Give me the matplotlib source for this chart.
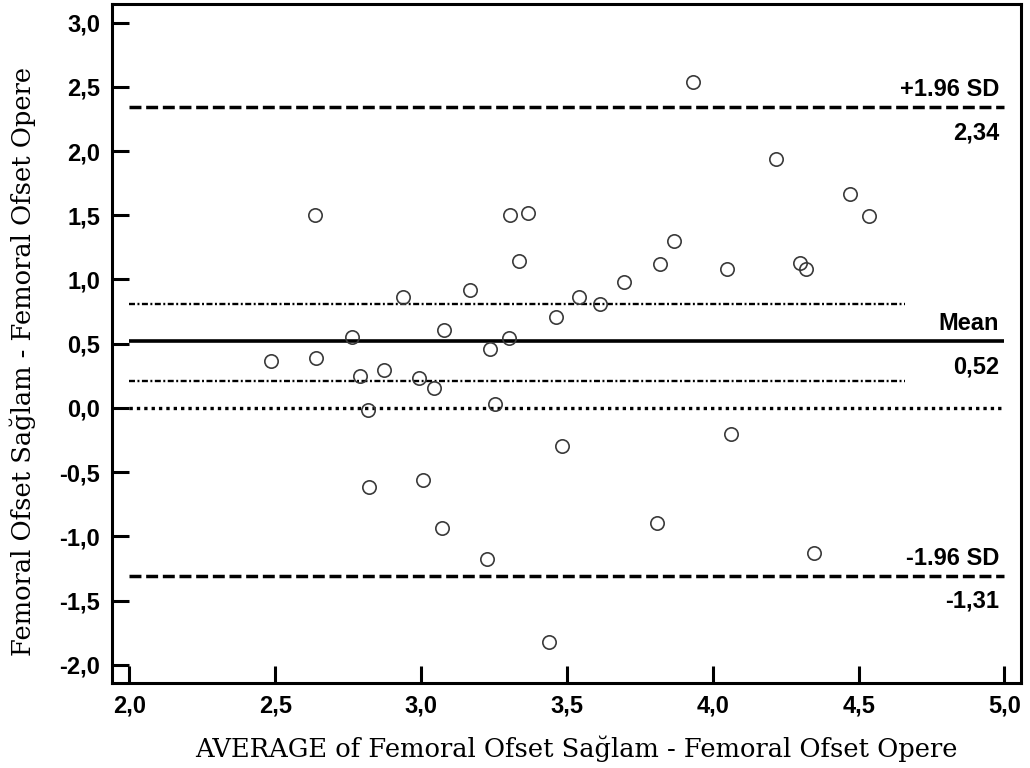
import matplotlib
matplotlib.use("Agg")
import matplotlib.pyplot as plt
from matplotlib import font_manager as fm
from matplotlib.ticker import FixedLocator, FuncFormatter

# ---- data ----
avg = [2.486, 2.637, 2.640, 2.764, 2.792, 2.819, 2.820, 2.874, 2.939, 2.994,
       3.008, 3.045, 3.072, 3.079, 3.168, 3.227, 3.237, 3.254, 3.302, 3.306,
       3.337, 3.366, 3.438, 3.461, 3.484, 3.540, 3.615, 3.695, 3.810, 3.819,
       3.868, 3.932, 4.048, 4.061, 4.217, 4.299, 4.319, 4.346, 4.470, 4.534]
diff = [0.364, 1.500, 0.389, 0.552, 0.248, -0.018, -0.618, 0.294, 0.863, 0.233,
        -0.564, 0.154, -0.938, 0.606, 0.918, -1.179, 0.456, 0.028, 0.544, 1.500,
        1.142, 1.516, -1.826, 0.711, -0.294, 0.862, 0.812, 0.978, -0.899, 1.121,
        1.300, 2.536, 1.082, -0.201, 1.936, 1.126, 1.082, -1.128, 1.664, 1.497]

mean_diff = 0.52
upper_loa = 2.34
lower_loa = -1.31
mean_ci = [0.21, 0.81]
line_labels = ["+1.96 SD", "Mean", "-1.96 SD"]
value_labels = ["2,34", "0,52", "-1,31"]
x_ticks = [2.0, 2.5, 3.0, 3.5, 4.0, 4.5, 5.0]
y_ticks = [-2.0, -1.5, -1.0, -0.5, 0.0, 0.5, 1.0, 1.5, 2.0, 2.5, 3.0]
xlabel = "AVERAGE of Femoral Ofset Sağlam - Femoral Ofset Opere"
ylabel = "Femoral Ofset Sağlam - Femoral Ofset Opere"

# find a regular-width Liberation Sans Bold (not Narrow)
bold_file = None
for f in fm.fontManager.ttflist:
    if f.name == 'Liberation Sans' and f.weight in ('bold', 700) and 'Narrow' not in f.fname \
            and 'Italic' not in f.fname and f.style == 'normal':
        bold_file = f.fname
        break
if bold_file:
    bold_fp = fm.FontProperties(fname=bold_file, size=17)
else:
    bold_fp = fm.FontProperties(family='DejaVu Sans', weight='bold', size=15.5)

plt.rcParams['lines.scale_dashes'] = False
W, H = 1030, 768
fig = plt.figure(figsize=(W / 100, H / 100), dpi=100)
ax = fig.add_axes([112 / W, 1 - 683 / H, 909 / W, 679 / H])

xline = (2.0, 5.0)
ci_end = 4.66

ax.plot(xline, [upper_loa] * 2, color='black', lw=2.5, dashes=(8.6, 3.4), dash_capstyle='butt')
ax.plot(xline, [lower_loa] * 2, color='black', lw=2.5, dashes=(8.6, 3.4), dash_capstyle='butt')
ax.plot(xline, [mean_diff] * 2, color='black', lw=2.6, solid_capstyle='butt')
ax.plot(xline, [0, 0], color='black', lw=2.4, dashes=(2.4, 2.9), dash_capstyle='butt')
for v in mean_ci:
    ax.plot((2.0, ci_end), [v, v], color='black', lw=1.7, dashes=(4.3, 1.8, 1.4, 1.8), dash_capstyle='butt')

ax.plot(avg, diff, linestyle='none', marker='o', ms=9.6, mfc='none', mec='#3a3a3a', mew=1.2, zorder=3)

for yv, lab, val in zip([upper_loa, mean_diff, lower_loa], line_labels, value_labels):
    ax.annotate(lab, (5.0, yv), xytext=(-4, 8), textcoords='offset points',
                ha='right', va='baseline', fontproperties=bold_fp, color='black')
    ax.annotate(val, (5.0, yv), xytext=(-4, -10), textcoords='offset points',
                ha='right', va='top', fontproperties=bold_fp, color='black')

ax.set_xlim(1.9406, 5.0566)
ax.set_ylim(-2.1425, 3.1456)
ax.xaxis.set_major_locator(FixedLocator(x_ticks))
ax.yaxis.set_major_locator(FixedLocator(y_ticks))
fmt = FuncFormatter(lambda v, p: f"{v:.1f}".replace('.', ','))
ax.xaxis.set_major_formatter(fmt)
ax.yaxis.set_major_formatter(fmt)
ax.tick_params(direction='in', length=12.5, width=2.2, pad=8.6)
for lab in ax.get_xticklabels() + ax.get_yticklabels():
    lab.set_fontproperties(bold_fp)
for s in ax.spines.values():
    s.set_linewidth(2.2)

serif = dict(family='DejaVu Serif', size=18.5, color='black')
fig.text(576 / W, 1 - 757 / H, xlabel, ha='center', va='baseline', **serif)
fig.text(9 / W, 1 - 361 / H, ylabel, ha='left', va='center', rotation=90, **serif)

fig.savefig("out.png", dpi=100)
